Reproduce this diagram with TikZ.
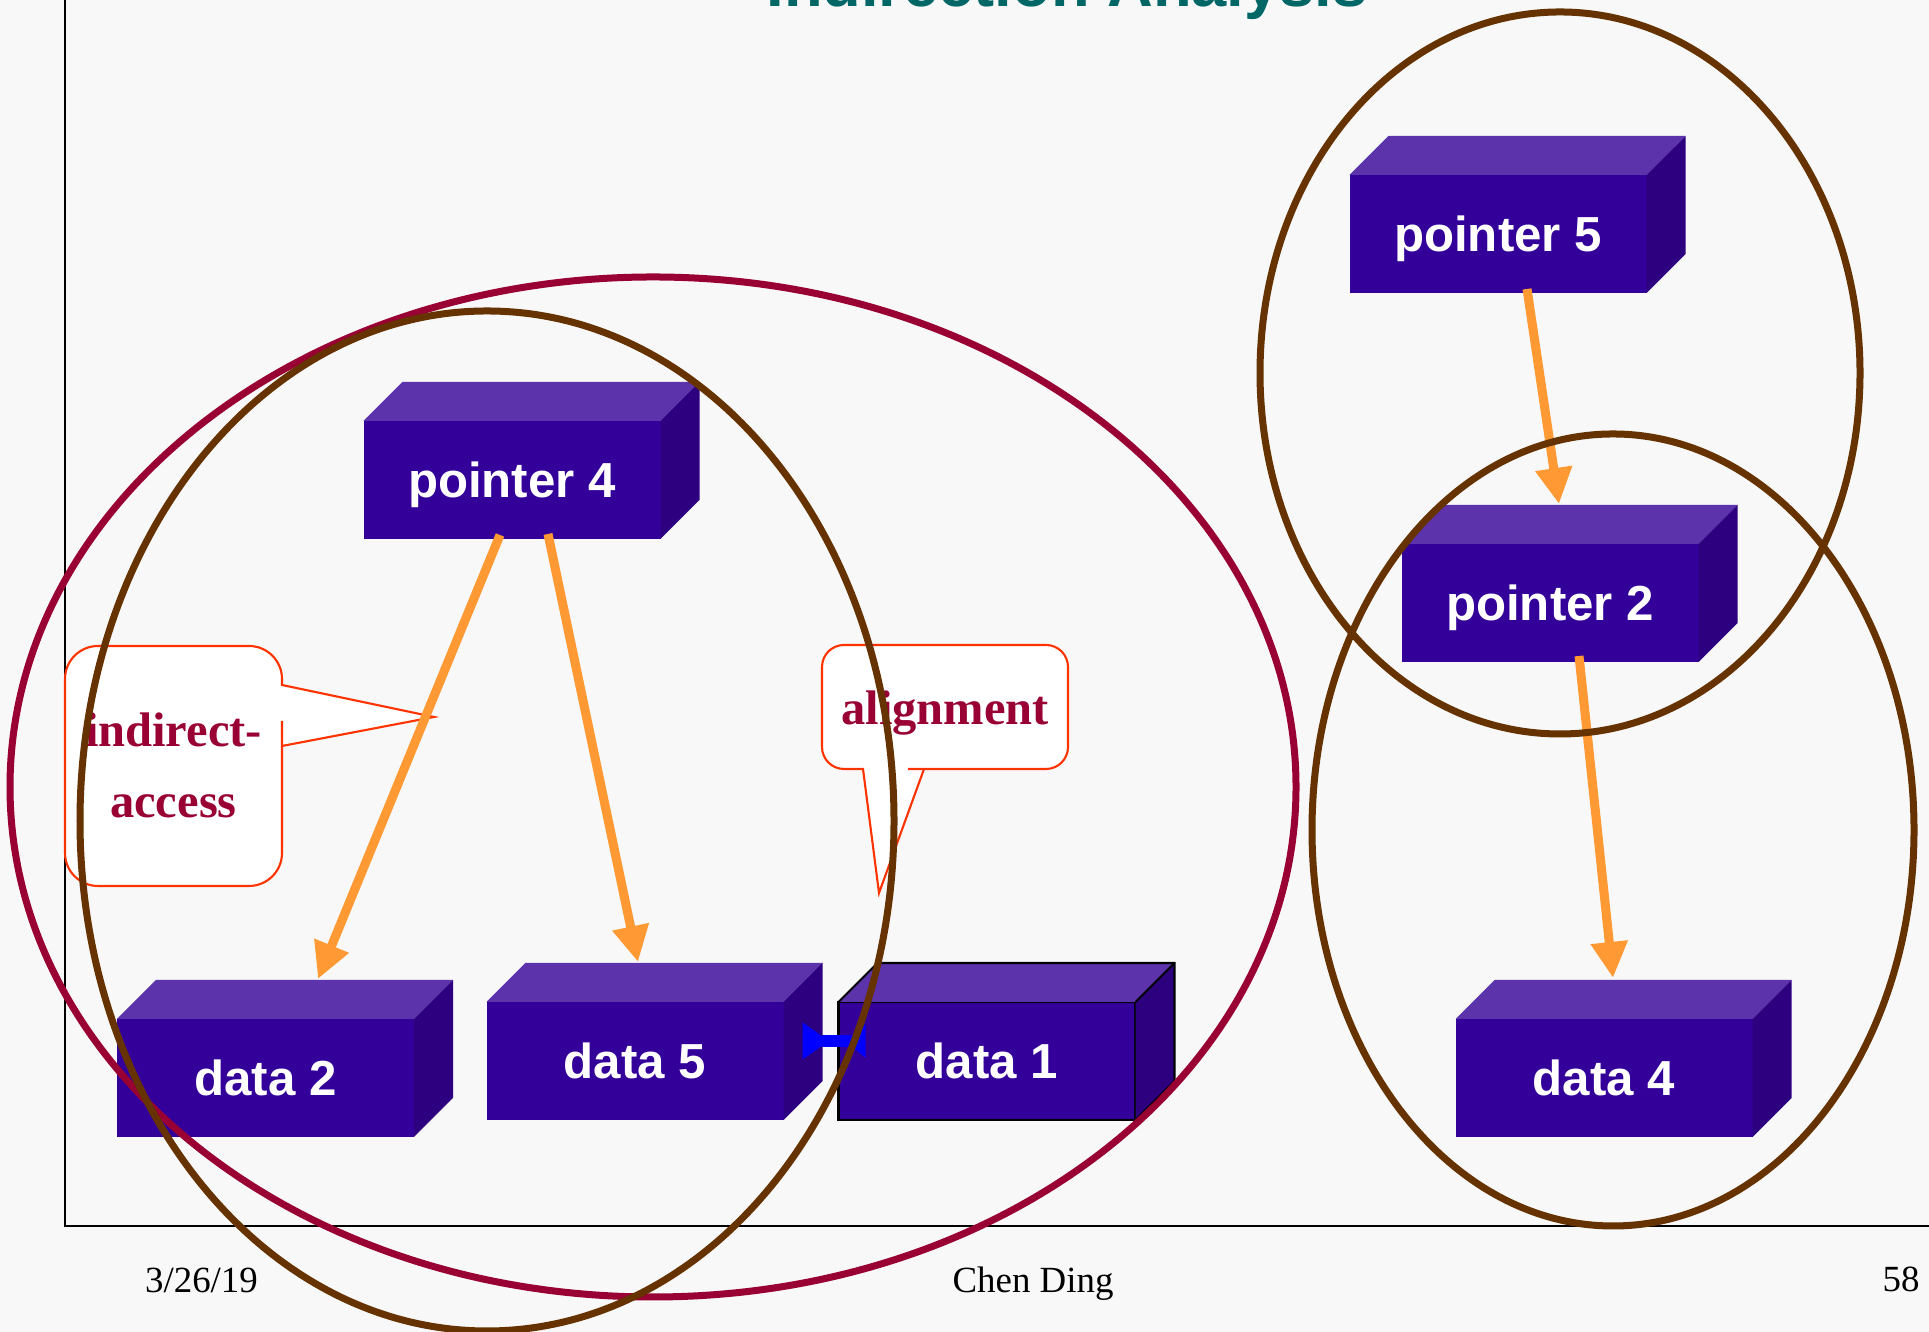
\documentclass[tikz,border=0pt]{standalone}
\usepackage{fontspec}
\setmainfont{Liberation Serif}
\newfontfamily\boxfont{Liberation Sans}
\usetikzlibrary{arrows.meta}

\definecolor{bgcolor}{HTML}{F8F8F8}
\definecolor{boxfront}{HTML}{330099}
\definecolor{boxtop}{HTML}{5C33AA}
\definecolor{boxside}{HTML}{2D0080}
\definecolor{flowcolor}{HTML}{FF9933}
\definecolor{groupbrown}{HTML}{663300}
\definecolor{groupred}{HTML}{990033}
\definecolor{calloutred}{HTML}{FF3300}
\definecolor{notered}{HTML}{990033}
\definecolor{titleteal}{HTML}{006666}
\definecolor{linkblue}{HTML}{0000FF}

\begin{document}
\begin{tikzpicture}[
        block/.style={rectangle, fill=boxfront, minimum width=2.97cm, minimum height=1.18cm, inner sep=0pt, outer sep=0pt, text=white, font=\boxfont\bfseries\fontsize{14}{16}\selectfont, text height=10pt, text depth=0pt},
        flow/.style={-{Triangle[length=3.6mm, width=3.5mm]}, line width=0.09cm, draw=flowcolor},
        link/.style={{Triangle[reversed, length=2.7mm, width=3.5mm]}-{Triangle[reversed, length=2mm, width=3.2mm]}, line width=0.12cm, draw=linkblue},
        group/.style={draw=groupbrown, line width=0.07cm},
        callout/.style={draw=calloutred, fill=white, line width=0.6pt},
        note/.style={text=notered, font=\bfseries\fontsize{13.8}{20.2}\selectfont, align=center, anchor=base},
        footer/.style={font=\fontsize{10.5}{12}\selectfont, anchor=base}
    ]
        \useasboundingbox (0,0) rectangle (19.29,13.32);
        \fill[bgcolor] (0,0) rectangle (19.29,13.32);

        % Title and frame
        \node[anchor=base, text=titleteal, font=\boxfont\bfseries\fontsize{18}{22}\selectfont] (title) at (10.67,13.25) {Indirection Analysis};
        \draw[line width=0.8pt] (0.65,13.32) -- (0.65,1.06) -- (19.29,1.06);

        % Callouts
        \draw[callout] (4.34,6.15) -- (2.82,6.47) -- (2.82,6.52) {[rounded corners=0.33cm] -- (2.82,6.86) -- (0.65,6.86) -- (0.65,4.46) -- (2.82,4.46) -- (2.82,5.78)} -- (2.82,5.86) -- cycle;
        \node[note] (indirect) at (1.735,5.14) {indirect-\\access};
        \draw[callout] (8.79,4.39) -- (8.63,5.63) -- (8.58,5.63) {[rounded corners=0.22cm] -- (8.22,5.63) -- (8.22,6.87) -- (10.68,6.87) -- (10.68,5.63) -- (9.30,5.63)} -- (9.24,5.63) -- cycle;
        \node[note] (align) at (9.45,6.07) {alignment};

        % Nodes
        \node[block] (p4) at (5.12,8.52) {pointer 4};
        \node[block] (p5) at (14.98,10.98) {pointer 5};
        \node[block] (p2) at (15.50,7.29) {pointer 2};
        \node[block] (d2) at (2.655,2.54) {data 2};
        \node[block] (d5) at (6.35,2.71) {data 5};
        \node[block, draw=black, line width=0.6pt] (d1) at (9.87,2.71) {data 1};
        \node[block] (d4) at (16.04,2.54) {data 4};

        \foreach \n in {p4,p5,p2,d2,d5,d1,d4} {
            \fill[boxtop] (\n.north west) -- ++(0.39,0.39) -- ++(2.97,0) -- (\n.north east) -- cycle;
            \fill[boxside] (\n.north east) -- ++(0.39,0.39) -- ++(0,-1.18) -- (\n.south east) -- cycle;
        }
        \draw[line width=0.6pt] (d1.north west) -- ++(0.39,0.39) -- ++(2.97,0) -- ++(0,-1.18) -- (d1.south east);
        \draw[line width=0.6pt] (d1.north east) -- ++(0.39,0.39);

        % Arrows
        \coordinate (bl) at ([xshift=0.19cm, yshift=0.20cm]d5.east);
        \coordinate (br) at ([xshift=0.27cm, yshift=0.20cm]d1.west);
        \draw[link] (bl) -- (br);

        \draw[flow] ([xshift=-0.12cm, yshift=0.04cm]p4.south) -- ([xshift=0.525cm, yshift=0.40cm]d2.north);
        \draw[flow] ([xshift=0.36cm, yshift=0.05cm]p4.south) -- ([xshift=0.03cm, yshift=0.40cm]d5.north);
        \draw[flow] ([xshift=0.29cm, yshift=0.04cm]p5.south) -- ([xshift=0.09cm, yshift=0.40cm]p2.north);
        \draw[flow] ([xshift=0.29cm, yshift=0.06cm]p2.south) -- ([xshift=0.09cm, yshift=0.41cm]d4.north);

        % Groups
        \draw[group, draw=groupred] (6.53,5.45) ellipse [x radius=6.43, y radius=5.10];
        \draw[group] (4.87,5.11) ellipse [x radius=4.07, y radius=5.10];
        \draw[group] (15.60,9.59) ellipse [x radius=3.00, y radius=3.61];
        \draw[group] (16.13,5.02) ellipse [x radius=3.01, y radius=3.96];

        % Footer
        \node[footer] (date) at (2.015,0.39) {3/26/19};
        \node[footer] (author) at (10.33,0.39) {Chen Ding};
        \node[footer] (page) at (19.01,0.40) {58};
    \end{tikzpicture}
\end{document}
